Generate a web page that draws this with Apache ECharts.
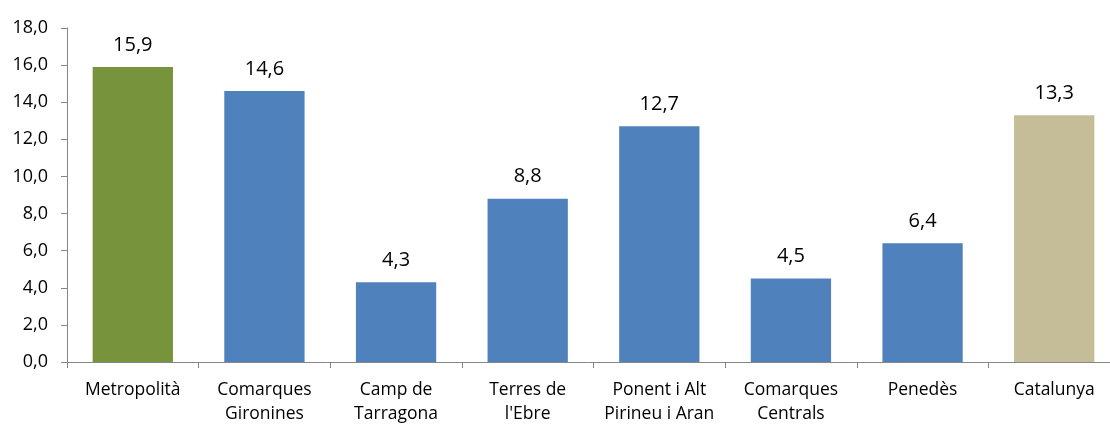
<!DOCTYPE html>
<html>
<head>
<meta charset="utf-8">
<script src="https://cdn.jsdelivr.net/npm/echarts@6/dist/echarts.min.js"></script>
<style>
  html, body { margin: 0; padding: 0; background: #fff; }
  #chart { width: 1110px; height: 424px; }
</style>
</head>
<body>
<div id="chart"></div>
<script>
var categories = ['Metropolità', 'Comarques\nGironines', 'Camp de\nTarragona', 'Terres de\nl\'Ebre',
    'Ponent i Alt\nPirineu i Aran', 'Comarques\nCentrals', 'Penedès', 'Catalunya'];
var values = [15.9, 14.6, 4.3, 8.8, 12.7, 4.5, 6.4, 13.3];
var barColors = ['#77933c', '#4f81bd', '#4f81bd', '#4f81bd', '#4f81bd', '#4f81bd', '#4f81bd', '#c4bd97'];

function fmt(v) {
    return v.toFixed(1).replace('.', ',');
}

var myChart = echarts.init(document.getElementById('chart'));

var option = {
    animation: false,
    textStyle: {
        fontFamily: 'Open Sans',
        color: '#000'
    },
    grid: {
        left: 67,
        width: 1053,
        top: 28,
        bottom: 62,
        containLabel: false,
        outerBoundsMode: 'none'
    },
    xAxis: {
        type: 'category',
        data: categories,
        axisLine: { lineStyle: { color: '#868686', width: 1 } },
        axisTick: { show: true, length: 6, lineStyle: { color: '#868686' } },
        axisLabel: {
            fontSize: 17.5,
            color: '#000',
            margin: 16,
            lineHeight: 24,
            interval: 0
        }
    },
    yAxis: {
        type: 'value',
        min: 0,
        max: 18,
        interval: 2,
        axisLine: { show: true, lineStyle: { color: '#868686', width: 1 } },
        axisTick: { show: true, length: 6, lineStyle: { color: '#868686' } },
        splitLine: { show: false },
        axisLabel: {
            fontSize: 18,
            color: '#000',
            margin: 19,
            formatter: function(v) { return fmt(v); }
        }
    },
    series: [{
        type: 'bar',
        barWidth: '61%',
        data: values.map(function(v, i) {
            return { value: v, itemStyle: { color: barColors[i] } };
        }),
        label: {
            show: true,
            position: 'top',
            distance: 12,
            fontSize: 20,
            color: '#000',
            formatter: function(p) { return fmt(p.value); }
        }
    }]
};
myChart.setOption(option);
</script>
</body>
</html>
